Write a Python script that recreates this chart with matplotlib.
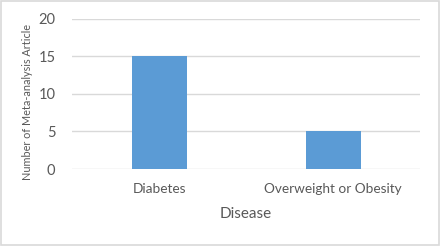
import matplotlib
matplotlib.use("Agg")
import matplotlib.pyplot as plt
from matplotlib.patches import Rectangle

# data
categories = ["Diabetes", "Overweight or Obesity"]
counts = [15, 5]
yticks = [0, 5, 10, 15, 20]

plt.rcParams["font.family"] = ["Lato", "DejaVu Sans"]

fig = plt.figure(figsize=(4.4, 2.46), dpi=100)
ax = fig.add_axes([0.164, 0.313, 0.791, 0.610])

x = list(range(len(categories)))
ax.bar(x, counts, width=0.316, color="#5b9bd5", zorder=3)

ax.set_xlim(-0.5, len(categories) - 0.5)
ax.set_ylim(0, 20)
ax.set_yticks(yticks)
ax.set_xticks(x)
ax.set_xticklabels(categories)
ax.yaxis.grid(True, color="#d9d9d9", linewidth=1.0, zorder=0)
ax.set_axisbelow(True)

for s in ["top", "right", "left", "bottom"]:
    ax.spines[s].set_visible(False)

ax.tick_params(axis="y", length=0, pad=12, labelsize=10.5, labelcolor="#595959")
ax.tick_params(axis="x", length=0, pad=10, labelsize=9.8, labelcolor="#595959")

ax.set_xlabel("Disease", fontsize=11, color="#595959", labelpad=9)
ax.set_ylabel("Number of Meta-analysis Article", fontsize=7.8, color="#595959")
ax.yaxis.set_label_coords(-0.112, 0.447)

# light grey frame around the chart
fig.patches.append(Rectangle((0.002, 0.004), 0.995, 0.99, transform=fig.transFigure,
                             fill=False, edgecolor="#d9d9d9", linewidth=1.2))

fig.savefig("out.png", dpi=100)
